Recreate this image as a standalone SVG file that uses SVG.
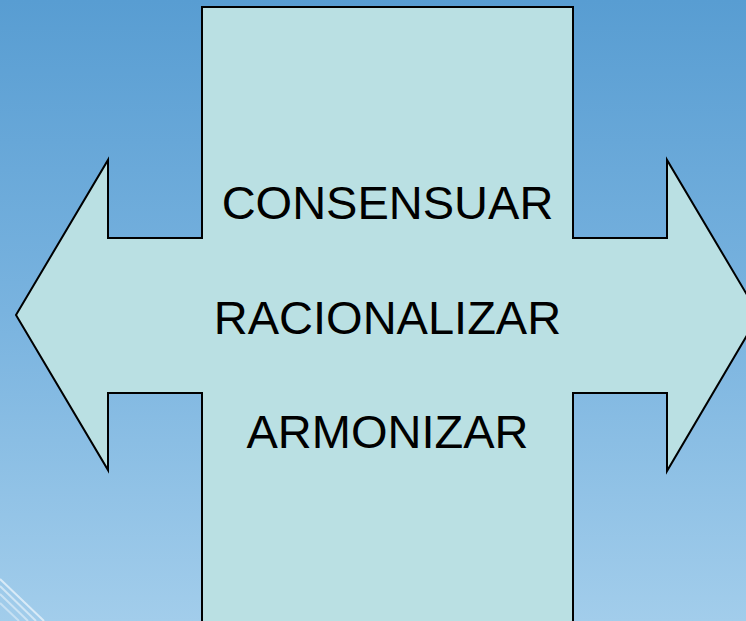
<svg xmlns="http://www.w3.org/2000/svg" width="746" height="621" viewBox="0 0 746 621">
<defs>
<linearGradient id="bg" x1="0" y1="0" x2="0" y2="1">
<stop offset="0" stop-color="#589dd2"/>
<stop offset="0.5" stop-color="#79b3df"/>
<stop offset="1" stop-color="#a2cdeb"/>
</linearGradient>
</defs>
<style>
.shape{fill:#bae0e3;stroke:#000;stroke-width:2;stroke-linejoin:miter}
.lbl{font-family:"Liberation Sans",Arial,sans-serif;font-size:47px;fill:#000;text-anchor:middle}
.streak{stroke:#ffffff;fill:none}
</style>
<rect width="746" height="621" fill="url(#bg)"/>
<g id="streaks">
<line class="streak" x1="0" y1="579" x2="44" y2="621" stroke-opacity="0.6" stroke-width="2"/>
<line class="streak" x1="0" y1="586" x2="36" y2="621" stroke-opacity="0.5" stroke-width="2"/>
<line class="streak" x1="0" y1="594" x2="28" y2="621" stroke-opacity="0.45" stroke-width="2"/>
<line class="streak" x1="0" y1="603" x2="19" y2="621" stroke-opacity="0.4" stroke-width="2"/>
</g>
<g id="cross-arrow">
<polygon class="shape" points="202,7 573,7 573,238 667,238 667,160 759,315 667,471 667,393 573,393 573,630 202,630 202,393 108,393 108,470 16,315 108,160 108,238 202,238"/>
</g>
<g id="labels">
<text class="lbl" x="387.5" y="219">CONSENSUAR</text>
<text class="lbl" x="387.5" y="334">RACIONALIZAR</text>
<text class="lbl" x="387.5" y="448">ARMONIZAR</text>
</g>
</svg>
